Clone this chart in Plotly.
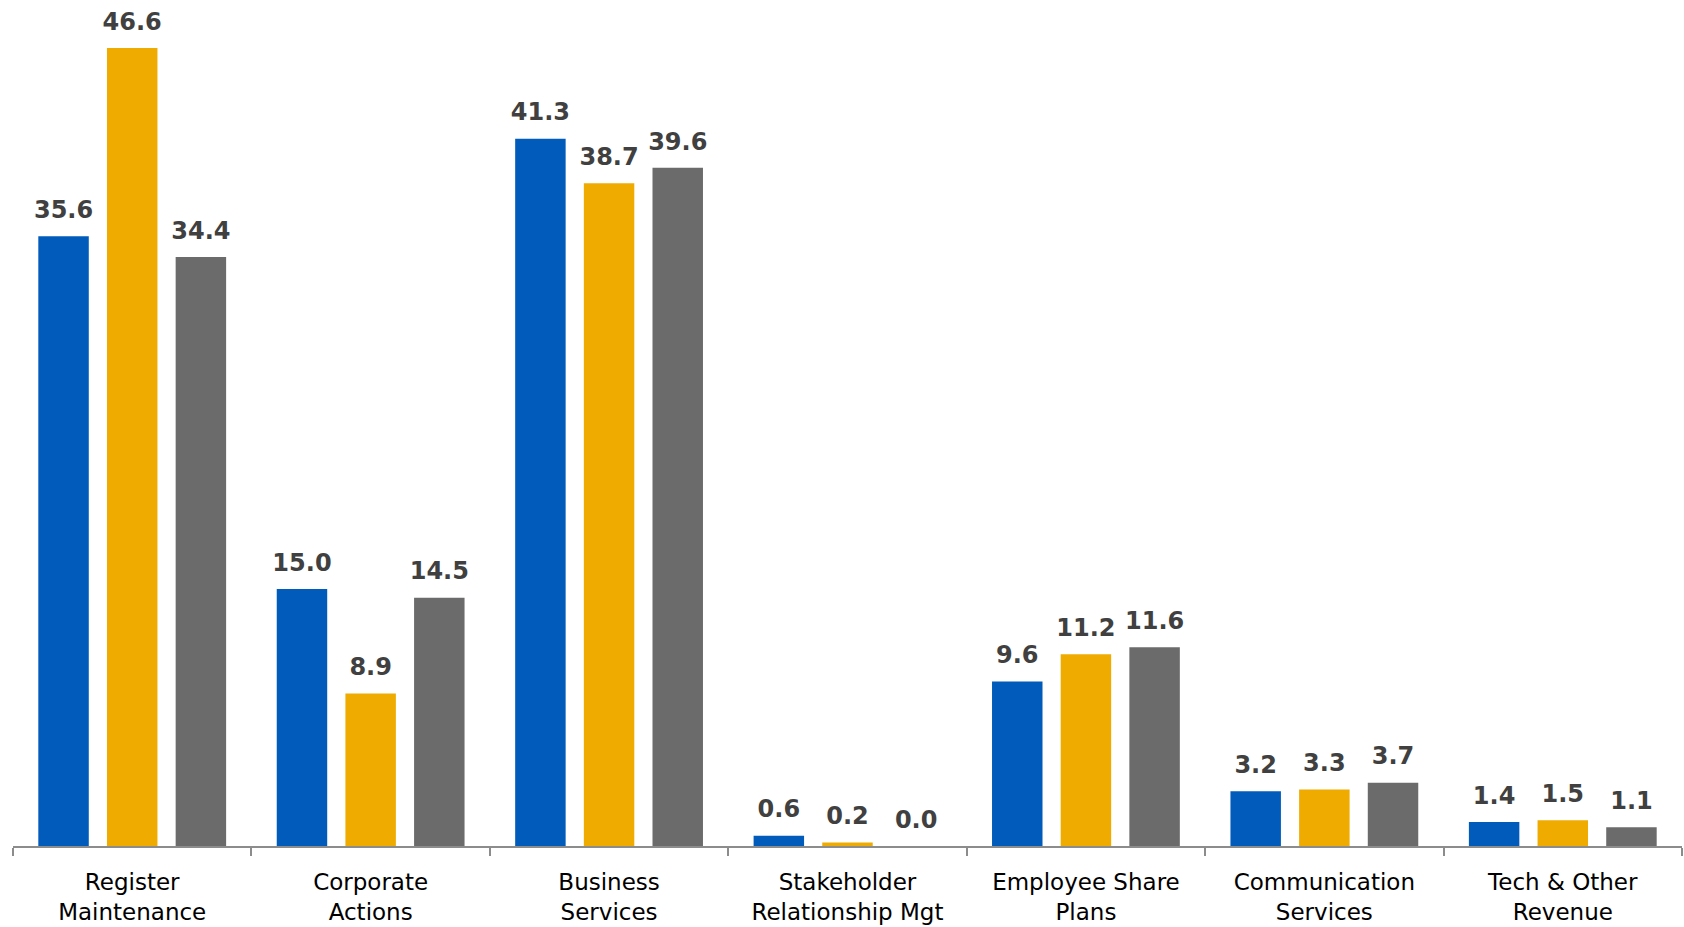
import plotly.graph_objects as go

categories = ["Register<br>Maintenance", "Corporate<br>Actions", "Business<br>Services",
              "Stakeholder<br>Relationship Mgt", "Employee Share<br>Plans",
              "Communication<br>Services", "Tech & Other<br>Revenue"]
series_names = ["Series 1", "Series 2", "Series 3"]
series_1 = [35.6, 15.0, 41.3, 0.6, 9.6, 3.2, 1.4]
series_2 = [46.6, 8.9, 38.7, 0.2, 11.2, 3.3, 1.5]
series_3 = [34.4, 14.5, 39.6, 0.0, 11.6, 3.7, 1.1]
colors = ["#005BBB", "#F0AB00", "#6B6B6B"]

fig = go.Figure()
for name, vals, col in zip(series_names, [series_1, series_2, series_3], colors):
    fig.add_trace(go.Bar(
        x=categories, y=vals, name=name, offsetgroup=name,
        marker=dict(color=col, line=dict(width=0)), hoverinfo="skip",
    ))
for name, vals in zip(series_names, [series_1, series_2, series_3]):
    fig.add_trace(go.Scatter(
        x=categories, y=vals, name=name + " label", offsetgroup=name,
        mode="markers+text", text=[f"{v:.1f}" for v in vals],
        textposition="top center", cliponaxis=False, hoverinfo="skip",
        marker=dict(size=18, opacity=0),
        textfont=dict(family="DejaVu Sans", size=24, color="#404040", weight="bold"),
    ))

fig.update_layout(
    width=1684, height=927, barmode="group", bargap=0.136, bargroupgap=0.265,
    scattermode="group", scattergap=0.136,
    showlegend=False, plot_bgcolor="white", paper_bgcolor="white",
    margin=dict(l=13, r=2, t=0, b=81, autoexpand=False),
    xaxis=dict(showline=True, linecolor="#8C8C8C", linewidth=2, ticks="outside",
               tickson="boundaries", ticklen=8, tickcolor="#8C8C8C", tickwidth=2,
               ticklabelstandoff=14, automargin=False,
               tickfont=dict(family="DejaVu Sans", size=23, color="#000000"),
               showgrid=False),
    yaxis=dict(range=[0, 49.4], visible=False, showgrid=False, zeroline=False,
               automargin=False),
)
fig.write_html("out.html", config={"displayModeBar": False},
               post_script="document.body.style.margin='0';document.body.style.overflow='hidden';")
